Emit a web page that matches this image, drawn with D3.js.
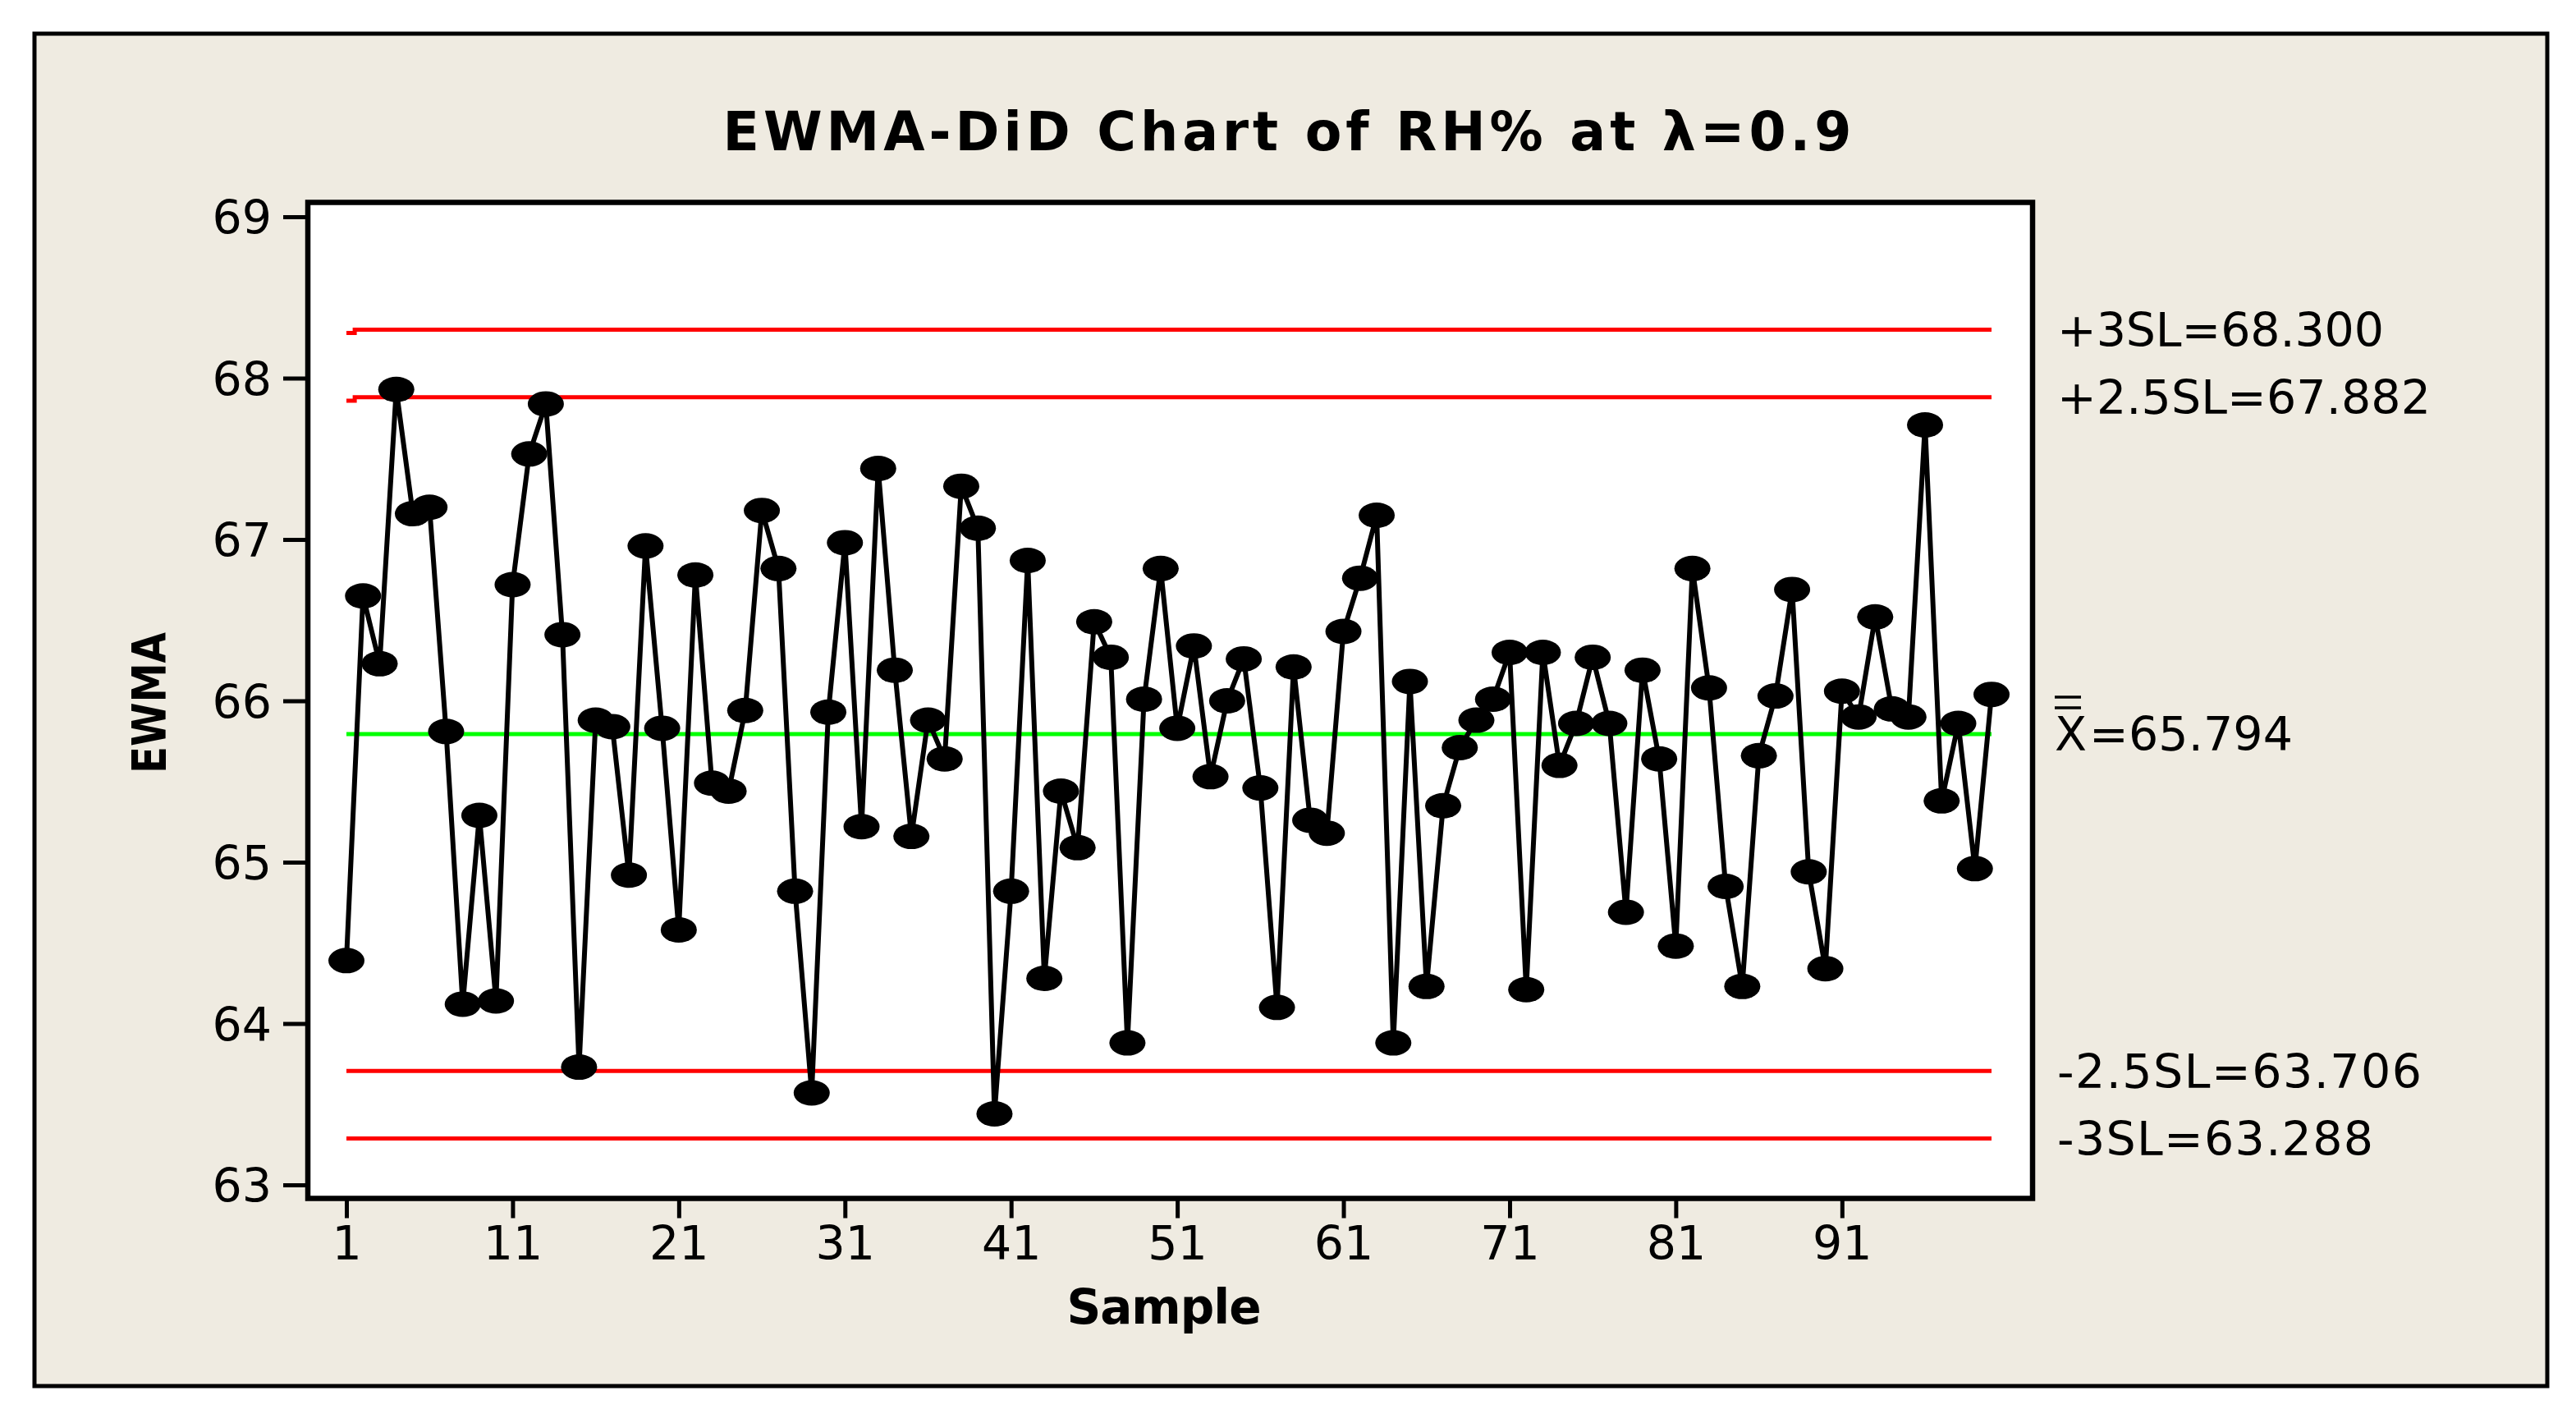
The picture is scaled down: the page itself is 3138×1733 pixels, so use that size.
<!DOCTYPE html>
<html>
<head>
<meta charset="utf-8">
<script src="https://cdn.jsdelivr.net/npm/d3@7"></script>
<style>
  html, body { margin: 0; padding: 0; background: #ffffff; }
  svg { display: block; }
  text { font-family: "DejaVu Sans", Verdana, sans-serif; fill: #000; }
</style>
</head>
<body>
<svg id="chart" width="3138" height="1733"></svg>
<script>
// ---------------- data ----------------
const samples = d3.range(1, 101);
const ewma = [
  64.39, 66.65, 66.23, 67.93, 67.16, 67.20, 65.81, 64.12, 65.29, 64.14,
  66.72, 67.53, 67.84, 66.41, 63.73, 65.88, 65.84, 64.92, 66.96, 65.83,
  64.58, 66.78, 65.49, 65.44, 65.94, 67.18, 66.82, 64.82, 63.57, 65.93,
  66.98, 65.22, 67.44, 66.19, 65.16, 65.88, 65.64, 67.33, 67.07, 63.44,
  64.82, 66.87, 64.28, 65.44, 65.09, 66.49, 66.27, 63.88, 66.01, 66.82,
  65.83, 66.34, 65.53, 66.00, 66.26, 65.46, 64.10, 66.21, 65.26, 65.18,
  66.43, 66.76, 67.15, 63.88, 66.12, 64.23, 65.35, 65.71, 65.88, 66.01,
  66.30, 64.21, 66.30, 65.60, 65.86, 66.27, 65.86, 64.69, 66.19, 65.64,
  64.48, 66.82, 66.08, 64.85, 64.23, 65.66, 66.03, 66.69, 64.94, 64.34,
  66.06, 65.90, 66.52, 65.95, 65.90, 67.71, 65.38, 65.86, 64.96, 66.04
];
const limitLabels = ["+3SL=68.300", "+2.5SL=67.882", "-2.5SL=63.706", "-3SL=63.288"];
const limitValues = [68.300, 67.882, 63.706, 63.288];
const limitFirstValues = [68.28, 67.86, 63.706, 63.288]; // value at sample 1 (step)
const centerValue = 65.794;
const centerLabel = "=65.794";
const yTicks = [63, 64, 65, 66, 67, 68, 69];
const xTicks = [1, 11, 21, 31, 41, 51, 61, 71, 81, 91];
const titleText = "EWMA-DiD Chart of RH% at λ=0.9";
const xTitle = "Sample";
const yTitle = "EWMA";

// ---------------- layout ----------------
const svg = d3.select("#chart");
const frame = { left: 375, top: 246.5, right: 2476, bottom: 1459.5 };

const x = d3.scaleLinear().domain([1, 100]).range([422, 2426]);
const y = d3.scaleLinear().domain([63, 69]).range([1443, 264]);

// outer beige panel
svg.append("rect")
  .attr("x", 42).attr("y", 41).attr("width", 3061).attr("height", 1647)
  .attr("fill", "#EFEBE1").attr("stroke", "#000").attr("stroke-width", 5);

// plot area
svg.append("rect")
  .attr("x", frame.left).attr("y", frame.top)
  .attr("width", frame.right - frame.left).attr("height", frame.bottom - frame.top)
  .attr("fill", "#ffffff");

// title
svg.append("text")
  .attr("x", 1568).attr("y", 183)
  .attr("text-anchor", "middle")
  .attr("font-size", 65).attr("font-weight", "bold")
  .attr("textLength", 1375).attr("lengthAdjust", "spacing")
  .text(titleText);

// control limit lines
limitValues.forEach((v, i) => {
  const pts = samples.map((s, k) => [s, k === 0 ? limitFirstValues[i] : v]);
  svg.append("path")
    .datum(pts)
    .attr("fill", "none").attr("stroke", "#FF0000").attr("stroke-width", 5)
    .attr("d", d3.line().x(d => x(d[0])).y(d => y(d[1])).curve(d3.curveStep));
});

// center line
svg.append("path")
  .datum(samples.map(s => [s, centerValue]))
  .attr("fill", "none").attr("stroke", "#00FF00").attr("stroke-width", 5)
  .attr("d", d3.line().x(d => x(d[0])).y(d => y(d[1])));

// data line
svg.append("path")
  .datum(ewma)
  .attr("fill", "none").attr("stroke", "#000").attr("stroke-width", 6)
  .attr("stroke-linejoin", "round")
  .attr("d", d3.line().x((d, i) => x(samples[i])).y(d => y(d)));

// markers
svg.append("g").selectAll("ellipse")
  .data(ewma)
  .join("ellipse")
  .attr("cx", (d, i) => x(samples[i]))
  .attr("cy", d => y(d))
  .attr("rx", 22).attr("ry", 15.5)
  .attr("fill", "#000");

// frame
svg.append("rect")
  .attr("x", frame.left).attr("y", frame.top)
  .attr("width", frame.right - frame.left).attr("height", frame.bottom - frame.top)
  .attr("fill", "none").attr("stroke", "#000").attr("stroke-width", 6.5);

// y axis
const yAxis = svg.append("g")
  .attr("transform", `translate(${frame.left},0)`)
  .call(d3.axisLeft(y).tickValues(yTicks).tickFormat(d3.format("d")).tickSize(30).tickPadding(14));
yAxis.select(".domain").remove();
yAxis.selectAll(".tick line").attr("stroke", "#000").attr("stroke-width", 5);
yAxis.selectAll(".tick text")
  .attr("font-size", 57).attr("font-family", "DejaVu Sans").attr("fill", "#000")
  .attr("dy", "0.36em");

// x axis
const xAxis = svg.append("g")
  .attr("transform", `translate(0,${frame.bottom})`)
  .call(d3.axisBottom(x).tickValues(xTicks).tickFormat(d3.format("d")).tickSize(24).tickPadding(10));
xAxis.select(".domain").remove();
xAxis.selectAll(".tick line").attr("stroke", "#000").attr("stroke-width", 5);
xAxis.selectAll(".tick text")
  .attr("font-size", 57).attr("font-family", "DejaVu Sans").attr("fill", "#000");

// axis titles
svg.append("text")
  .attr("x", 1418).attr("y", 1612)
  .attr("text-anchor", "middle")
  .attr("font-size", 58).attr("font-weight", "bold")
  .attr("textLength", 237).attr("lengthAdjust", "spacing")
  .text(xTitle);

svg.append("text")
  .attr("transform", "translate(202,856) rotate(-90) scale(0.85,1)")
  .attr("text-anchor", "middle")
  .attr("font-size", 57).attr("font-weight", "bold")
  .text(yTitle);

// right-hand limit labels
const labelLengths = [398, 455, 444, 385];
limitLabels.forEach((lab, i) => {
  svg.append("text")
    .attr("x", 2506).attr("y", y(limitValues[i]))
    .attr("dy", "0.36em")
    .attr("font-size", 57)
    .attr("textLength", labelLengths[i]).attr("lengthAdjust", "spacing")
    .text(lab);
});

// center label: X with double bar
const cy = y(centerValue);
svg.append("text")
  .attr("x", 2503).attr("y", cy)
  .attr("dy", "0.36em")
  .attr("font-size", 57)
  .text("X");
svg.append("text")
  .attr("x", 2545).attr("y", cy)
  .attr("dy", "0.36em")
  .attr("font-size", 57)
  .attr("textLength", 248).attr("lengthAdjust", "spacing")
  .text(centerLabel);
[-45, -32].forEach(off => {
  svg.append("line")
    .attr("x1", 2503).attr("x2", 2535)
    .attr("y1", cy + off).attr("y2", cy + off)
    .attr("stroke", "#000").attr("stroke-width", 3.5);
});
</script>
</body>
</html>
